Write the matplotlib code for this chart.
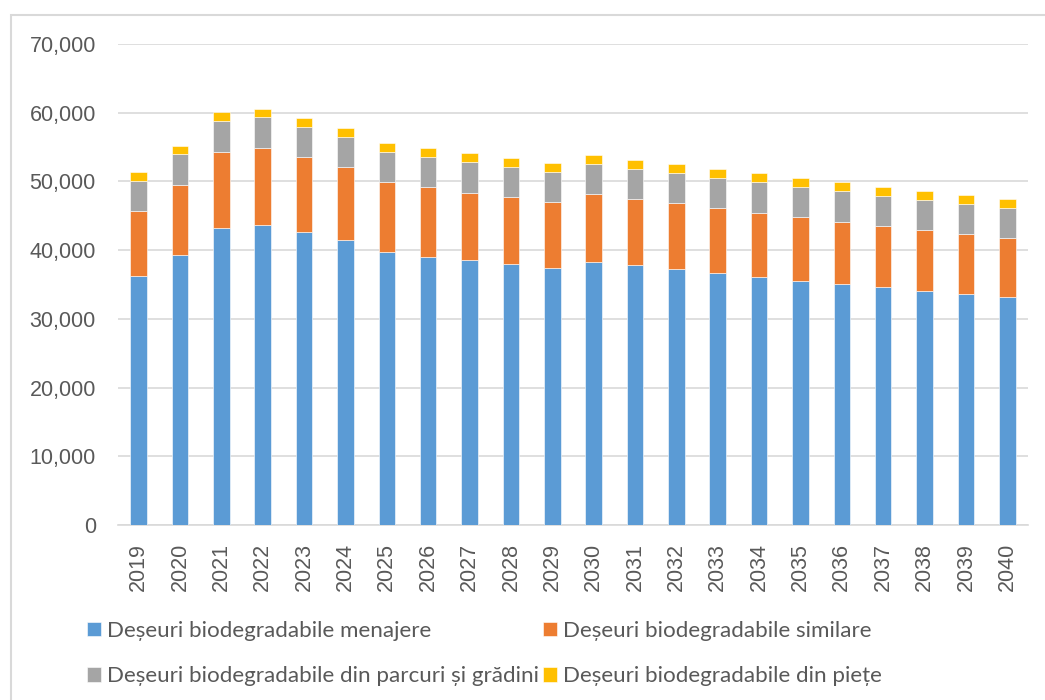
#!/usr/bin/python3
# -*- coding: utf-8 -*-

import numpy as np
import matplotlib
matplotlib.use("Agg")
import matplotlib.pyplot as plt
from matplotlib.patches import Rectangle


ani = [str(a) for a in range(2019, 2041)]

menajere = [36300, 39250, 43180, 43610, 42600, 41430, 39690, 39050, 38520, 37990, 37450,
            38320, 37790, 37210, 36630, 36140, 35560, 35120, 34590, 34100, 33670, 33130]
similare = [9400, 10280, 11150, 11300, 10910, 10630, 10180, 10100, 9850, 9700, 9560,
            9850, 9660, 9610, 9460, 9310, 9220, 9020, 8930, 8790, 8630, 8590]
parcuri = [4400, 4420, 4510, 4420, 4460, 4450, 4420, 4410, 4460, 4410, 4410,
           4410, 4410, 4360, 4460, 4420, 4460, 4430, 4410, 4460, 4470, 4420]
piete = [1300, 1250, 1310, 1210, 1220, 1270, 1310, 1260, 1270, 1270, 1220,
         1270, 1260, 1310, 1260, 1310, 1260, 1300, 1260, 1260, 1260, 1260]

etichete = ["Deșeuri biodegradabile menajere",
            "Deșeuri biodegradabile similare",
            "Deșeuri biodegradabile din parcuri și grădini",
            "Deșeuri biodegradabile din piețe"]
culori = ["#5B9BD5", "#ED7D31", "#A5A5A5", "#FFC000"]

GRI_TEXT = "#595959"
GRI_LINII = "#D9D9D9"

fig = plt.figure(figsize=(10.45, 7.0), dpi=100)
ax = fig.add_axes([0.1129, 0.25, 0.8708, 0.6871])

x = np.arange(len(ani))
baza = np.zeros(len(ani))
bare = []
for serie, culoare, eticheta in zip([menajere, similare, parcuri, piete], culori, etichete):
    b = ax.bar(x, serie, width=0.4, bottom=baza, color=culoare, label=eticheta,
               edgecolor="white", linewidth=0.4, zorder=3)
    bare.append(b)
    baza = baza + np.array(serie)

ax.set_xlim(-0.5, len(ani) - 0.5)
ax.set_ylim(0, 70000)
ax.set_yticks(range(0, 70001, 10000))
ax.yaxis.set_major_formatter(matplotlib.ticker.FuncFormatter(lambda v, p: "{:,.0f}".format(v)))
ax.set_xticks(x)
ax.set_xticklabels(ani, rotation=90)

ax.grid(axis="y", color=GRI_LINII, linewidth=1.2, zorder=0)
for lado in ["top", "right", "left"]:
    ax.spines[lado].set_visible(False)
ax.spines["bottom"].set_color(GRI_LINII)
ax.spines["bottom"].set_linewidth(1.2)
ax.tick_params(axis="both", length=0, labelsize=15.5, labelcolor=GRI_TEXT,
               labelfontfamily="Liberation Sans")
ax.tick_params(axis="y", pad=16)
ax.tick_params(axis="x", pad=13)

# leyenda: orden por filas con ncol=2
orden = [bare[0], bare[2], bare[1], bare[3]]
textos = [etichete[0], etichete[2], etichete[1], etichete[3]]
ley = fig.legend(orden, textos, ncol=2, loc="upper left", bbox_to_anchor=(0.075, 0.126),
                 frameon=False, handlelength=0.62, handleheight=0.62, handletextpad=0.25,
                 columnspacing=0.2, labelspacing=1.15, borderaxespad=0,
                 prop={"family": "Lato", "size": 16.1})
for t in ley.get_texts():
    t.set_color(GRI_TEXT)

# marco del grafico
fig.patches.append(Rectangle((11 / 1045, -0.1), 1.2, 1 - 15 / 700 + 0.1, transform=fig.transFigure,
                             fill=False, edgecolor=GRI_LINII, linewidth=1.5))

plt.savefig("out.png", dpi=100)
